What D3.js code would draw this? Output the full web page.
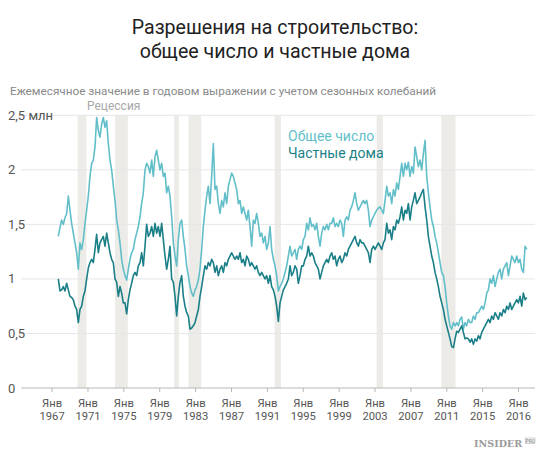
<!DOCTYPE html>
<html><head><meta charset="utf-8">
<script src="https://cdn.jsdelivr.net/npm/d3@7"></script>
<style>body{margin:0;background:#fff;} svg{display:block;font-family:Roboto,"Noto Sans",sans-serif;}</style>
</head><body><svg id="c" width="550" height="458"></svg>
<script>
// ---- data (millions of permits, seasonally adjusted annual rate) ----
const startYear = 1967.9;      // first reading
const stepYears = 0.17422;     // spacing between readings (years)
const totalPermits = [
1.39,1.47,1.54,1.50,1.56,1.60,1.76,1.63,1.51,1.42,
1.33,1.24,1.09,1.33,1.27,1.36,1.51,1.63,1.76,1.94,
2.06,2.09,2.21,2.48,2.36,2.30,2.42,2.48,2.39,2.45,
2.24,2.09,2.00,1.85,1.72,1.54,1.45,1.33,1.18,1.09,
1.03,0.99,1.09,1.18,1.24,1.27,1.36,1.42,1.48,1.57,
1.69,1.79,2.00,2.06,2.03,1.97,2.09,1.94,2.12,2.18,
2.09,2.00,2.06,1.94,1.97,1.79,1.85,1.76,1.57,1.33,
1.21,1.12,1.36,1.51,1.54,1.39,1.27,1.12,1.03,0.93,
0.87,0.84,0.90,0.93,0.99,1.09,1.27,1.48,1.63,1.76,
1.85,1.69,1.94,2.24,1.82,1.85,1.69,1.60,1.72,1.66,
1.79,1.69,1.85,1.91,1.97,1.94,1.88,1.82,1.69,1.72,
1.60,1.66,1.60,1.54,1.63,1.48,1.30,1.54,1.51,1.60,
1.51,1.39,1.42,1.33,1.39,1.27,1.33,1.48,1.27,1.18,
1.12,1.03,0.89,0.93,0.96,1.00,1.06,1.12,1.21,
1.30,1.21,1.24,1.27,1.18,1.27,1.30,1.27,1.36,1.39,
1.51,1.45,1.56,1.48,1.50,1.45,1.51,1.39,1.30,1.42,
1.48,1.45,1.50,1.45,1.51,1.51,1.56,1.48,1.51,1.48,
1.54,1.51,1.39,1.54,1.57,1.54,1.63,1.66,1.72,1.79,
1.69,1.63,1.66,1.69,1.72,1.69,1.72,1.63,1.48,1.54,
1.57,1.60,1.63,1.65,1.66,1.63,1.60,1.72,1.85,1.76,
1.79,1.69,1.82,1.76,1.88,1.82,1.94,2.06,1.94,2.06,
2.00,2.07,1.94,2.03,1.97,2.21,2.12,2.03,2.09,2.00,
2.15,2.27,1.94,1.79,1.66,1.54,1.48,1.39,1.33,1.24,
1.15,1.06,1.03,0.93,0.78,0.66,0.57,0.54,0.60,0.57,
0.60,0.57,0.63,0.65,0.54,0.60,0.57,0.63,0.60,0.60,
0.66,0.63,0.69,0.69,0.72,0.75,0.72,0.78,0.87,0.90,
1.00,0.96,1.03,0.93,1.00,1.06,1.09,1.00,1.09,1.12,
1.15,1.03,1.12,1.21,1.18,1.15,1.21,1.15,1.18,1.09,
1.06,1.30,1.27
];
const privateHouses = [
1.00,0.89,0.90,0.93,0.89,0.96,0.90,0.84,0.83,0.81,
0.75,0.72,0.60,0.72,0.75,0.84,0.89,1.00,1.10,1.15,
1.18,1.15,1.27,1.41,1.24,1.33,1.36,1.39,1.30,1.42,
1.33,1.24,1.18,1.15,1.00,0.97,0.84,0.93,0.87,0.78,
0.78,0.68,0.81,0.90,0.96,1.03,1.06,1.03,1.12,1.15,
1.24,1.12,1.30,1.50,1.39,1.42,1.48,1.39,1.51,1.42,
1.48,1.39,1.51,1.36,1.21,1.09,1.18,1.30,1.00,0.97,
0.84,0.66,0.84,0.97,1.03,0.84,0.75,0.69,0.66,0.54,
0.55,0.57,0.60,0.66,0.72,0.84,0.93,1.03,1.12,1.09,
1.15,1.12,1.18,1.15,1.06,1.12,1.03,1.09,1.12,1.06,
1.15,1.12,1.18,1.21,1.24,1.21,1.18,1.21,1.18,1.24,
1.15,1.18,1.12,1.21,1.18,1.12,1.15,1.12,1.09,1.12,
1.06,1.03,1.06,1.03,1.00,1.03,0.96,1.03,0.93,0.90,
0.84,0.75,0.61,0.78,0.84,0.90,0.93,0.96,1.00,
1.12,1.03,1.06,1.12,1.09,0.96,1.03,1.12,1.12,1.18,
1.21,1.30,1.21,1.24,1.21,1.15,1.12,1.09,1.00,1.06,
1.12,1.15,1.18,1.15,1.21,1.24,1.18,1.21,1.12,1.18,
1.21,1.15,1.18,1.24,1.21,1.27,1.30,1.33,1.36,1.39,
1.33,1.30,1.36,1.33,1.33,1.30,1.27,1.24,1.15,1.27,
1.30,1.27,1.30,1.33,1.30,1.27,1.33,1.36,1.51,1.42,
1.45,1.36,1.48,1.45,1.54,1.51,1.57,1.66,1.54,1.63,
1.60,1.69,1.54,1.66,1.72,1.79,1.69,1.72,1.75,1.79,
1.82,1.66,1.54,1.39,1.30,1.21,1.15,1.06,1.00,0.93,
0.84,0.78,0.72,0.63,0.57,0.51,0.45,0.38,0.37,0.45,
0.52,0.51,0.54,0.57,0.51,0.45,0.46,0.45,0.42,0.45,
0.40,0.45,0.43,0.48,0.45,0.51,0.54,0.57,0.60,0.63,
0.60,0.66,0.63,0.69,0.66,0.63,0.69,0.66,0.72,0.69,
0.75,0.72,0.78,0.72,0.75,0.78,0.81,0.78,0.84,0.75,
0.87,0.81,0.83
];
const recessions = [
  ["1969-12","1970-11"],["1973-11","1975-03"],["1980-01","1980-07"],
  ["1981-07","1982-11"],["1990-07","1991-03"],["2001-03","2001-11"],
  ["2007-12","2009-06"]
];
const tickDates = ["1967-04","1971-01","1974-10","1978-07","1982-04","1986-01","1989-10",
  "1993-07","1997-04","2001-01","2004-10","2008-07","2012-04","2016-01"];
const tickYearLabels = ["1967","1971","1975","1979","1983","1987","1991",
  "1995","1999","2003","2007","2011","2015","2016"];
const tickMonthLabel = "Янв";
const yTicks = [0, 0.5, 1, 1.5, 2, 2.5];
const yTickLabels = ["0", "0,5", "1", "1,5", "2", "2,5 млн"];
const seriesNames = ["Общее число", "Частные дома"];
const title = ["Разрешения на строительство:", "общее число и частные дома"];
const subtitle = "Ежемесячное значение в годовом выражении с учетом сезонных колебаний";
const recessionLabel = "Рецессия";

// ---- drawing ----
const colTotal = "#62bfc9", colPrivate = "#1a7f87";
const dec = s => { const [yy, mm] = s.split("-").map(Number); return yy + (mm - 1) / 12; };
const svg = d3.select("#c");
const x = d3.scaleLinear().domain([1964, 2017.72]).range([21, 535]);
const y = d3.scaleLinear().domain([0, 2.5]).range([388, 115.3]);

svg.append("g").selectAll("text").data(title).join("text")
  .attr("x", 275).attr("y", (d, i) => 34 + i * 24).attr("text-anchor", "middle")
  .attr("font-size", 19.6).attr("fill", "#222").text(d => d);
svg.append("text").attr("x", 10).attr("y", 94.5).attr("font-size", 11.75)
  .attr("fill", "#8a8a8a").text(subtitle);

// recession bands
svg.append("g").selectAll("rect").data(recessions).join("rect")
  .attr("x", d => x(dec(d[0]))).attr("width", d => x(dec(d[1])) - x(dec(d[0])))
  .attr("y", y(2.5)).attr("height", y(0) - y(2.5)).attr("fill", "#ecebe7");
svg.append("text").attr("x", 87).attr("y", 110).attr("font-size", 12)
  .attr("fill", "#a8a8a8").text(recessionLabel);

// grid
svg.append("g").selectAll("line").data(yTicks.filter(d => d > 0)).join("line")
  .attr("x1", 21).attr("x2", 535).attr("y1", d => y(d)).attr("y2", d => y(d))
  .attr("stroke", "#e6e6e6").attr("stroke-width", 1);
svg.append("g").selectAll("text").data(yTicks).join("text")
  .attr("x", 8).attr("y", d => y(d)).attr("dy", "0.35em").attr("font-size", 13)
  .attr("fill", "#555").text((d, i) => yTickLabels[i]);

// x axis
svg.append("line").attr("x1", 21).attr("x2", 535).attr("y1", y(0)).attr("y2", y(0))
  .attr("stroke", "#b8b8b8").attr("stroke-width", 1);
const xt = svg.append("g").selectAll("g").data(tickDates).join("g")
  .attr("transform", d => `translate(${x(dec(d))},${y(0)})`);
xt.append("line").attr("y1", 0).attr("y2", 4).attr("stroke", "#b8b8b8");
xt.append("text").attr("y", 18.5).attr("text-anchor", "middle").attr("font-size", 11.2)
  .attr("fill", "#555").text(tickMonthLabel);
xt.append("text").attr("y", 32).attr("text-anchor", "middle").attr("font-size", 11.2)
  .attr("fill", "#555").text((d, i) => tickYearLabels[i]);

// lines
const line = d3.line().x((d, i) => x(startYear + i * stepYears)).y(d => y(d));
svg.append("path").datum(totalPermits).attr("d", line).attr("fill", "none")
  .attr("stroke", colTotal).attr("stroke-width", 1.6).attr("stroke-linejoin", "round");
svg.append("path").datum(privateHouses).attr("d", line).attr("fill", "none")
  .attr("stroke", colPrivate).attr("stroke-width", 1.6).attr("stroke-linejoin", "round");

// legend
svg.append("g").selectAll("text").data(seriesNames).join("text")
  .attr("x", 288).attr("y", (d, i) => 141 + i * 16.5).attr("font-size", 14)
  .attr("fill", (d, i) => i === 0 ? colTotal : colPrivate).text(d => d);

// logo
svg.append("text").attr("x", 474).attr("y", 447).attr("font-family", "'DejaVu Serif','Liberation Serif',serif")
  .attr("font-weight", "bold").attr("font-size", 9.6).attr("fill", "#9a9a9a").text("INSIDER");
svg.append("rect").attr("x", 525.5).attr("y", 438).attr("width", 9.5).attr("height", 5.5)
  .attr("fill", "none").attr("stroke", "#b0b0b0").attr("stroke-width", 0.6);
svg.append("text").attr("x", 530.2).attr("y", 442.6).attr("text-anchor", "middle").attr("font-size", 4.5)
  .attr("font-weight", "bold").attr("fill", "#9a9a9a").text("PRO");
</script></body></html>
